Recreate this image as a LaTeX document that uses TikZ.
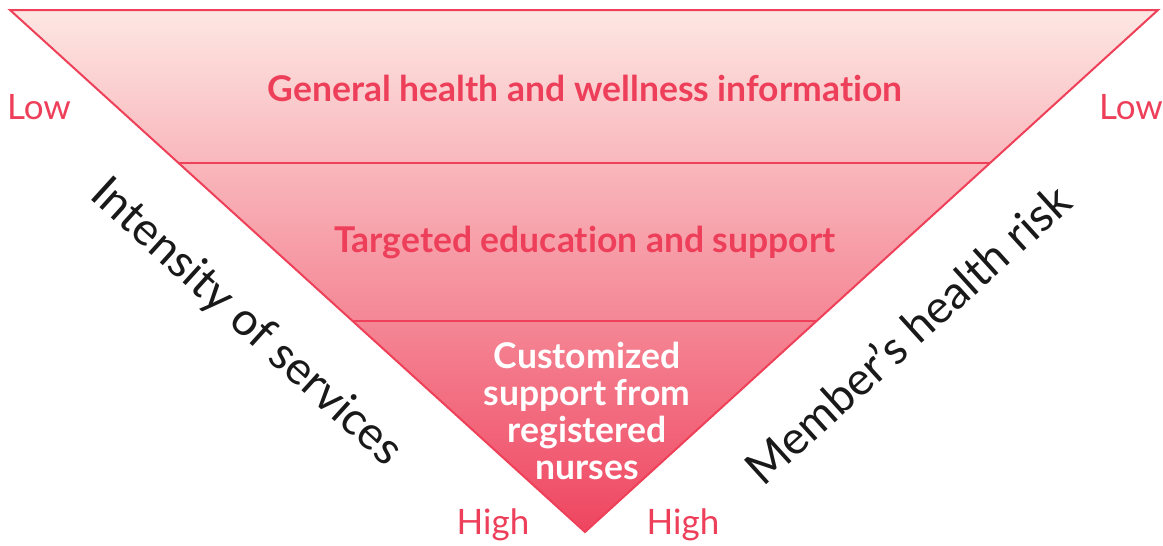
\documentclass[tikz,border=0pt]{standalone}
\usepackage{fontspec}
\setmainfont{Lato}[Ligatures=NoCommon]
\definecolor{edge}{HTML}{EE4058}
\definecolor{labred}{HTML}{EE3F5A}
\definecolor{gtop}{HTML}{FDE7E3}
\definecolor{gmid}{HTML}{F59A92}
\definecolor{gbot}{HTML}{EF4560}
\begin{document}
\begin{tikzpicture}[x=1pt,y=-1pt,
  tierlabel/.style={font=\bfseries\fontsize{35.5}{38}\selectfont, text=labred, align=center},
  innerlabel/.style={font=\bfseries\fontsize{35.5}{37}\selectfont, text=white, align=center},
  endlabel/.style={font=\fontsize{35}{38}\selectfont, text=labred},
  axislabel/.style={font=\fontsize{46}{50}\selectfont, text=black!90}]
\useasboundingbox (0,0) rectangle (1163,546);
\coordinate (TL) at (10,10);
\coordinate (TR) at (1158,10);
\coordinate (A) at (585,532);
\shade[top color=gtop, middle color=gmid, bottom color=gbot] (TL) -- (TR) -- (A) -- cycle;
\path (TL) -- (A) coordinate[pos=0.2931] (L1) coordinate[pos=0.5958] (L2);
\path (TR) -- (A) coordinate[pos=0.2931] (R1) coordinate[pos=0.5958] (R2);
\draw[edge, line width=2pt] (L1) -- (R1);
\draw[edge, line width=2pt] (L2) -- (R2);
\draw[edge, line width=2pt, line join=miter] (TL) -- (TR) -- (A) -- cycle;
\node[tierlabel] (t1) at (585,88) {General health and wellness information};
\node[tierlabel] (t2) at (585,243) {Targeted education and support};
\node[innerlabel] (t3) at (587,411) {Customized\\support from\\registered\\nurses};
\node[endlabel] (lowL) at (39,107) {Low};
\node[endlabel] (lowR) at (1131,107) {Low};
\node[endlabel] (highL) at (493,525) {High};
\node[endlabel] (highR) at (683,525) {High};
\node[axislabel, rotate=-42.2] (axL) at (246,323) {Intensity of services};
\node[axislabel, rotate=42.2] (axR) at (907,334) {Member’s health risk};
\end{tikzpicture}
\end{document}
